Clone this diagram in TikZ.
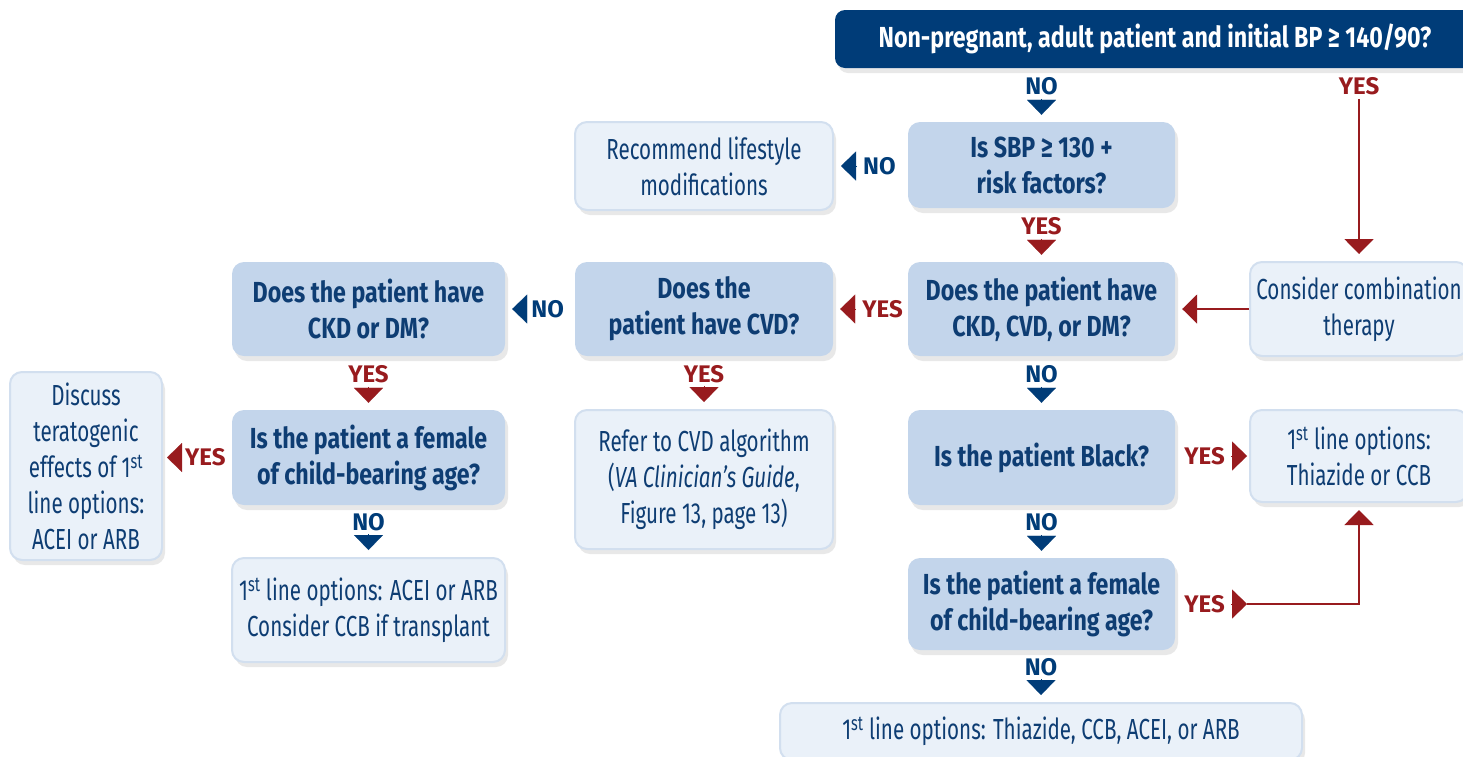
\documentclass[tikz,border=0pt]{standalone}
\usepackage{fontspec}
\setmainfont{Fira Sans}[FakeStretch=0.71]
\newfontfamily\askfont{Fira Sans}[FakeStretch=0.8]
\newfontfamily\answerfont{Fira Sans}
\usetikzlibrary{positioning,shadows,arrows.meta}

\definecolor{navy}{HTML}{003C78}
\definecolor{ink}{HTML}{0E3D73}
\definecolor{wine}{HTML}{981B1E}
\definecolor{midblue}{HTML}{C3D5EB}
\definecolor{pale}{HTML}{EAF1F9}
\definecolor{paleedge}{HTML}{D2DFEF}

\tikzset{
  box/.style={rounded corners=12pt, align=center, text=ink, inner sep=0pt,
    font=\fontsize{29}{36}\selectfont,
    drop shadow={opacity=0.18, shadow xshift=3pt, shadow yshift=-5pt}},
  ask/.style={box, fill=midblue, font=\askfont\bfseries\fontsize{29}{36}\selectfont},
  act/.style={box, fill=pale, draw=paleedge, line width=2pt},
  lbl/.style={font=\answerfont\bfseries\fontsize{24}{24}\selectfont, inner xsep=6pt,
    inner ysep=0pt, minimum height=24pt},
  nolbl/.style={lbl, text=navy},
  yeslbl/.style={lbl, text=wine},
  notip/.style={navy, line width=0.1pt, -{Triangle[length=15pt,width=29pt]}, shorten >=7pt},
  yestip/.style={notip, wine},
  yesline/.style={wine, line width=2pt, -{Triangle[length=15pt,width=29pt]}, shorten >=7pt}
}

\begin{document}
\begin{tikzpicture}[x=1pt,y=-1pt]
\useasboundingbox (0,0) rectangle (1463,756);

% questions and actions
\node[box, fill=navy, text=white, font=\askfont\bfseries\fontsize{29}{36}\selectfont,
  minimum width=640pt, minimum height=58pt, rounded corners=10pt]
  (top) at (1155,39) {Non-pregnant, adult patient and initial BP ≥ 140/90?};
\node[ask, minimum width=267pt, minimum height=86pt] (sbp) at (1041.5,165) {Is SBP ≥ 130 +\\risk factors?};
\node[act, minimum width=258pt, minimum height=88pt] (life) at (704,166) {Recommend lifestyle\\modifications};
\node[ask, minimum width=267pt, minimum height=94pt] (ckd3) at (1041.5,309) {Does the patient have\\CKD, CVD, or DM?};
\node[act, minimum width=218pt, minimum height=94pt] (comb) at (1359,309) {Consider combination\\therapy};
\node[ask, minimum width=258pt, minimum height=94pt] (cvd) at (704,309) {Does the\\patient have CVD?};
\node[ask, minimum width=273pt, minimum height=94pt] (ckdm) at (368.5,309) {Does the patient have\\CKD or DM?};
\node[ask, minimum width=273pt, minimum height=95pt] (femL) at (368.5,457.5) {Is the patient a female\\of child-bearing age?};
\node[act, minimum width=152pt, minimum height=188pt] (disc) at (86,466) {Discuss\\teratogenic\\effects of 1\textsuperscript{st}\\line options:\\ACEI or ARB};
\node[act, minimum width=273pt, minimum height=104pt] (acei) at (368.5,610) {1\textsuperscript{st} line options: ACEI or ARB\\Consider CCB if transplant};
\node[act, minimum width=258pt, minimum height=139pt] (cvdalg) at (704,479.5) {Refer to CVD algorithm\\(\textit{VA Clinician’s Guide},\\Figure 13, page 13)};
\node[ask, minimum width=267pt, minimum height=95pt] (black) at (1041.5,457.5) {Is the patient Black?};
\node[act, minimum width=218pt, minimum height=92pt] (thz) at (1359,456) {1\textsuperscript{st} line options:\\Thiazide or CCB};
\node[ask, minimum width=267pt, minimum height=92pt] (femR) at (1041.5,604) {Is the patient a female\\of child-bearing age?};
\node[act, minimum width=522pt, minimum height=57pt] (last) at (1041,731.5) {1\textsuperscript{st} line options: Thiazide, CCB, ACEI, or ARB};

% answers
\node[nolbl, above=23pt of sbp] (no1) {NO};
\draw[notip] (no1) -- (sbp);
\node[yeslbl] (yes1) at (no1 -| comb) {YES};
\draw[yesline] (yes1) -- (comb);
\node[nolbl, right=23pt of life] (no2) {NO};
\draw[notip] (no2) -- (life);
\node[yeslbl, above=23pt of ckd3] (yes2) {YES};
\draw[yestip] (yes2) -- (ckd3);
\draw[yesline] (comb) -- (ckd3);
\node[yeslbl, right=23pt of cvd] (yes3) {YES};
\draw[yestip] (yes3) -- (cvd);
\node[nolbl, right=20pt of ckdm] (no3) {NO};
\draw[notip] (no3) -- (ckdm);
\node[yeslbl, above=23pt of femL] (yes4) {YES};
\draw[yestip] (yes4) -- (femL);
\node[yeslbl, left=0pt of femL] (yes5) {YES};
\draw[yestip, shorten >=4pt] (yes5) -- (yes5 -| disc.east);
\node[nolbl, above=23pt of acei] (no4) {NO};
\draw[notip] (no4) -- (acei);
\node[yeslbl, above=23pt of cvdalg] (yes6) {YES};
\draw[yestip] (yes6) -- (cvdalg);
\node[nolbl, above=23pt of black] (no5) {NO};
\draw[notip] (no5) -- (black);
\node[yeslbl, left=18pt of thz] (yes7) {YES};
\draw[yestip, shorten >=2pt] (yes7) -- (thz);
\node[nolbl, above=23pt of femR] (no6) {NO};
\draw[notip] (no6) -- (femR);
\node[yeslbl] (yes8) at (yes7 |- femR) {YES};
\coordinate (tipend) at ([xshift=16pt]yes8.east);
\draw[yestip, shorten >=0pt] (yes8) -- (tipend);
\draw[yesline] (tipend) -| (thz);
\node[nolbl, above=23pt of last] (no7) {NO};
\draw[notip] (no7) -- (last);
\end{tikzpicture}
\end{document}
